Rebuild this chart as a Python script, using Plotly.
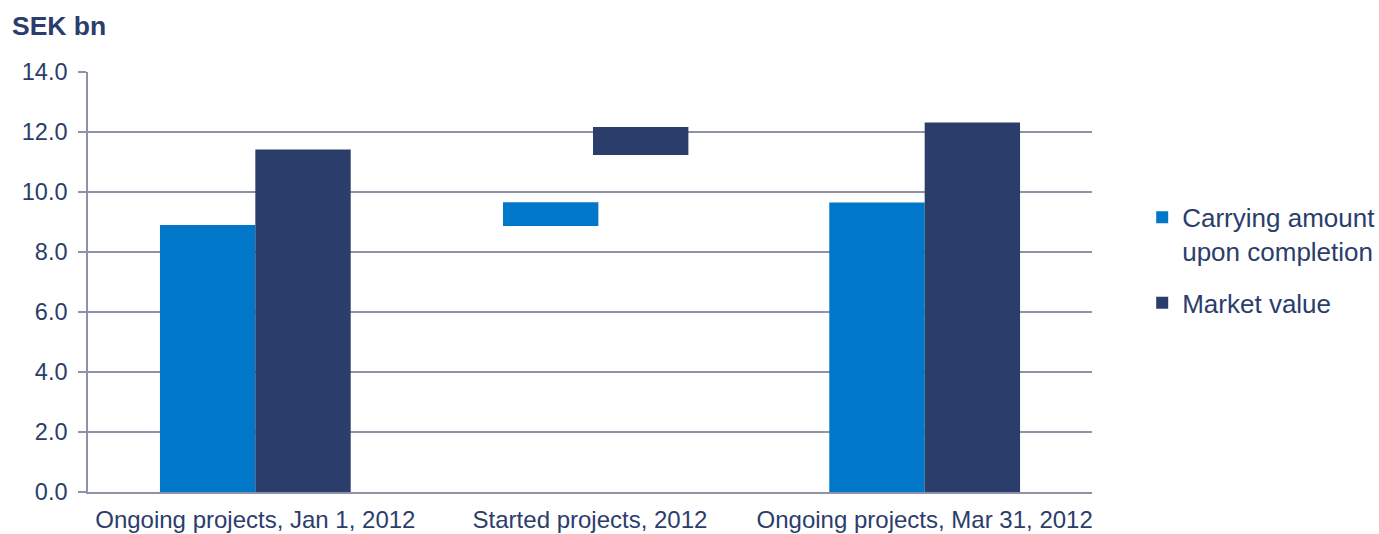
import plotly.graph_objects as go

# Project categories on the x axis
categories = [
    "Ongoing projects, Jan 1, 2012",
    "Started projects, 2012",
    "Ongoing projects, Mar 31, 2012",
]

# Carrying amount upon completion (SEK bn): bar bottoms and tops
carrying_low = [0.0, 8.87, 0.0]
carrying_high = [8.90, 9.66, 9.65]

# Market value (SEK bn): bar bottoms and tops
market_low = [0.0, 11.23, 0.0]
market_high = [11.42, 12.17, 12.32]

# Y axis ticks
y_ticks = [0, 2, 4, 6, 8, 10, 12, 14]
y_tick_labels = ["0.0", "2.0", "4.0", "6.0", "8.0", "10.0", "12.0", "14.0"]

NAVY = "#2B3D6B"
BLUE = "#0077C8"
GRID = "#8E92A6"
FONT = "Liberation Sans, Arial, Helvetica, sans-serif"

carrying_height = [h - l for h, l in zip(carrying_high, carrying_low)]
market_height = [h - l for h, l in zip(market_high, market_low)]

fig = go.Figure()
fig.add_trace(go.Bar(
    name="Carrying amount<br>upon completion",
    legendgroup="carrying",
    x=categories,
    y=carrying_height,
    base=carrying_low,
    width=0.285,
    offset=[-0.285, -0.26, -0.285],
    marker=dict(color=BLUE, line=dict(width=0)),
))
fig.add_trace(go.Bar(
    name="Market value",
    legendgroup="market",
    x=categories,
    y=market_height,
    base=market_low,
    width=0.285,
    offset=[0.0, 0.009, 0.0],
    marker=dict(color=NAVY, line=dict(width=0)),
))

fig.update_layout(
    width=1379,
    height=534,
    barmode="overlay",
    paper_bgcolor="white",
    plot_bgcolor="white",
    margin=dict(l=88, r=287, t=72, b=42, autoexpand=False),
    font=dict(family=FONT, color=NAVY, size=22),
    title=dict(
        text="<b>SEK bn</b>",
        x=12 / 1379,
        xref="container",
        xanchor="left",
        y=1 - 26 / 534,
        yref="container",
        yanchor="middle",
        font=dict(family=FONT, size=26.5, color=NAVY),
    ),
    legend=dict(
        x=1.05,
        xanchor="left",
        y=0.71,
        yanchor="top",
        valign="top",
        font=dict(family=FONT, size=26, color=NAVY),
        bgcolor="rgba(0,0,0,0)",
        tracegroupgap=15,
    ),
    showlegend=True,
)

fig.update_xaxes(
    type="category",
    range=[-0.5, 2.5],
    showgrid=False,
    showline=True,
    linecolor=GRID,
    linewidth=2,
    ticks="",
    tickfont=dict(family=FONT, size=24, color=NAVY),
    ticklabelstandoff=5,
)
fig.update_yaxes(
    range=[0, 14],
    tickvals=y_ticks,
    ticktext=y_tick_labels,
    showgrid=True,
    gridcolor=GRID,
    gridwidth=1.6,
    showline=True,
    linecolor=GRID,
    linewidth=1.6,
    ticks="outside",
    ticklen=8,
    tickcolor=GRID,
    tickwidth=1.6,
    tickfont=dict(family=FONT, size=23.5, color=NAVY),
    ticklabelstandoff=6,
    zeroline=False,
)

fig.write_html("out.html")
